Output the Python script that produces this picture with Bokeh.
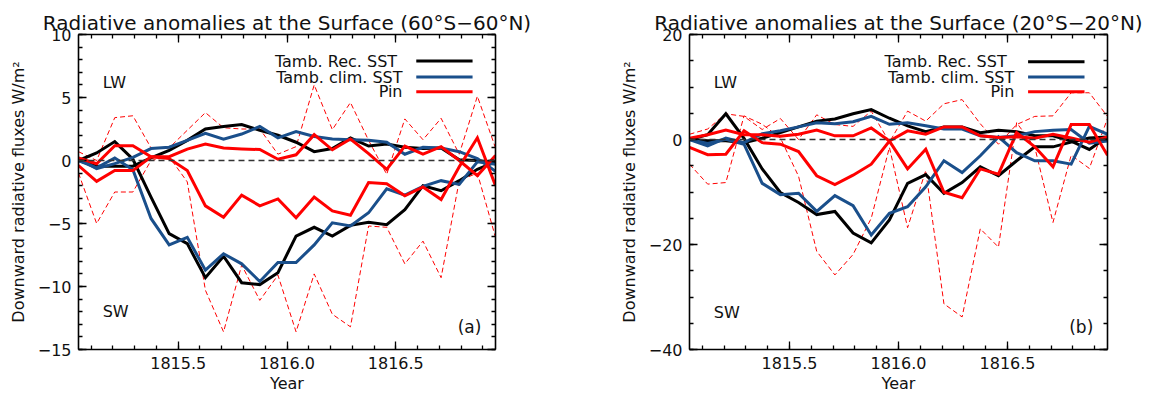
from bokeh.plotting import figure
from bokeh.layouts import row
from bokeh.models import (Range1d, LinearAxis, SingleIntervalTicker, Span, Label,
                          CustomJSTickFormatter)
from bokeh.embed import file_html
from bokeh.resources import INLINE

# Monthly time axis (mid-month), Jan 1815 .. Dec 1816
year = [1815 + (m + 0.5) / 12 for m in range(24)]

# ---- 60S-60N surface radiative anomalies (W/m2) ----
rec_lw_a = [0.0, -0.45, -0.45, -0.45, 0.2, 0.8, 1.6, 2.5, 2.7, 2.85, 2.4, 2.0,
            1.45, 0.7, 0.95, 1.8, 1.15, 1.3, 1.05, 0.95, 1.0, 0.05, 0.0, -0.2]
rec_sw_a = [0.0, 0.6, 1.5, 0.1, -2.9, -5.8, -6.6, -9.3, -7.6, -9.7, -9.85, -8.9,
            -6.0, -5.3, -6.0, -5.15, -4.9, -5.1, -3.9, -2.0, -2.4, -1.6, -0.7, -0.1]
clim_lw_a = [0.13, -0.65, -0.25, 0.25, 0.95, 1.05, 1.6, 2.15, 1.7, 2.1, 2.7, 1.8,
             2.3, 1.9, 1.7, 1.65, 1.6, 1.45, 0.5, 1.05, 1.0, 0.7, 0.15, -0.85]
clim_sw_a = [0.0, -0.58, 0.2, -0.74, -4.6, -6.7, -6.1, -8.7, -7.4, -8.2, -9.6, -8.1,
             -8.1, -6.7, -4.95, -5.2, -4.15, -2.25, -2.75, -2.05, -1.6, -1.9, -0.1, -0.3]
pin_lw_a = [0.2, -0.26, 1.18, 1.18, 0.3, 0.3, 0.9, 1.3, 1.0, 0.92, 0.87, 0.1,
            0.45, 2.05, 0.85, 1.7, 0.55, -0.7, 1.15, 0.5, 1.1, 0.0, -1.2, 0.4]
pin_sw_a = [-0.4, -1.65, -0.8, -0.8, 0.3, 0.15, -0.8, -3.6, -4.5, -2.75, -3.6, -3.05,
            -4.55, -2.9, -4.0, -4.35, -1.75, -1.85, -2.8, -2.1, -3.1, -0.5, 1.8, -2.0]
pin_max_a = [0.7, 0.0, 3.4, 3.55, 1.0, 1.0, 2.4, 3.8, 2.6, 2.5, 2.5, 0.5,
             1.1, 6.0, 2.45, 4.6, 1.6, -1.1, 3.3, 1.65, 3.35, 0.5, 5.1, 1.0]
pin_min_a = [-1.0, -5.0, -2.5, -2.5, 0.0, 0.3, -1.7, -10.3, -13.6, -8.3, -11.1, -9.1,
             -13.6, -9.0, -12.2, -13.2, -5.2, -5.3, -8.2, -6.4, -9.3, -1.6, -1.0, -6.1]

# ---- 20S-20N surface radiative anomalies (W/m2) ----
rec_lw_b = [0.0, -0.25, -0.25, -0.6, 0.25, 1.3, 2.4, 3.5, 3.9, 4.9, 5.7, 4.05,
            2.6, 1.5, 2.4, 2.4, 1.3, 1.77, 1.5, 0.7, 0.7, -0.3, -1.9, 0.5]
rec_sw_b = [0.0, 0.9, 4.9, 0.2, -5.6, -10.1, -12.0, -14.3, -13.7, -17.8, -19.7, -15.3,
            -8.35, -6.7, -10.25, -8.2, -5.2, -6.9, -4.05, -1.4, -1.4, -0.5, 0.3, 0.5]
clim_lw_b = [0.0, -1.2, 0.25, -0.6, 1.1, 1.65, 2.4, 3.2, 3.0, 3.4, 4.4, 2.9,
             3.2, 2.6, 2.0, 2.0, 0.7, 0.4, 0.7, 1.5, 1.77, 1.9, -0.7, -0.3]
clim_sw_b = [0.0, -0.75, 0.06, -0.9, -8.35, -10.5, -10.25, -13.7, -10.7, -12.6, -18.2, -14.05,
             -12.8, -9.0, -4.05, -6.3, -3.1, 0.5, -2.5, -4.05, -4.05, -4.7, 2.5, 1.0]
pin_lw_b = [0.25, 0.9, 1.8, 0.9, 0.9, 0.6, 1.0, 1.8, 0.7, 0.7, 2.2, -0.3,
            1.65, 1.0, 2.4, 2.4, 0.7, 0.4, 0.5, 0.25, 1.0, 0.3, -0.5, 0.5]
pin_sw_b = [-1.5, -2.9, -2.8, 1.65, -0.6, -0.9, -2.3, -6.9, -8.6, -6.8, -4.7, -0.3,
            -5.6, -1.85, -10.05, -11.1, -5.6, -6.6, 1.3, -1.4, -5.2, 2.85, 2.85, -3.0]
pin_max_b = [1.0, 2.0, 4.9, 4.4, 1.9, 4.0, 0.0, 4.7, 2.85, 2.5, 5.4, -0.5,
             5.4, 3.5, 6.8, 7.6, 3.0, -0.9, 2.85, 4.4, 4.5, 8.9, 8.9, 4.4]
pin_min_b = [-4.7, -8.5, -8.2, 4.5, 2.9, 0.3, -7.0, -21.3, -25.8, -21.9, -15.0, -1.5,
             -16.8, -5.9, -31.3, -33.8, -17.0, -20.5, 3.2, -1.5, -15.8, -3.0, -5.5, 4.0]

series_names = ["Tamb. Rec. SST", "Tamb. clim. SST", "Pin"]

FONT = "DejaVu Sans"
INK = "#111111"
BLACK, BLUE, RED = "#000000", "#1a4f8b", "#ff0000"
COLORS = [BLACK, BLUE, RED]


def style_axis(ax, ticker, show_labels):
    ax.ticker = ticker
    ax.axis_line_width = 1.6
    ax.axis_line_color = "black"
    ax.major_tick_out = 0
    ax.major_tick_in = 8
    ax.minor_tick_out = 0
    ax.minor_tick_in = 4
    ax.major_tick_line_width = 1.3
    ax.minor_tick_line_width = 1.3
    ax.major_tick_line_color = "black"
    ax.minor_tick_line_color = "black"
    ax.major_label_text_font = FONT
    ax.major_label_text_color = INK
    ax.major_label_text_font_size = "16px"
    if show_labels:
        ax.major_label_standoff = 7
    else:
        # tick marks only on the opposite frame edges
        ax.formatter = CustomJSTickFormatter(code="return ''")
        ax.major_label_standoff = 0


def panel(title, ylo, yhi, yint, yminor, lines, spread, width, b_left, b_right,
          tag, lw_y, sw_y, tag_y, leg_y, leg_dx):
    p = figure(width=width, height=397,
               x_range=Range1d(year[0], year[-1]), y_range=Range1d(ylo, yhi),
               output_backend="svg", toolbar_location=None,
               min_border_left=b_left, min_border_right=b_right,
               min_border_top=34, min_border_bottom=48)
    p.grid.visible = False
    p.outline_line_color = None
    p.background_fill_color = "white"
    p.border_fill_color = "white"

    p.title.text = title
    p.title.align = "center"
    p.title.text_font = FONT
    p.title.text_font_size = "20px"
    p.title.text_font_style = "normal"
    p.title.text_color = INK
    p.title.standoff = 0

    xt = lambda: SingleIntervalTicker(interval=0.5, num_minor_ticks=5)
    yt = lambda: SingleIntervalTicker(interval=yint, num_minor_ticks=yminor)

    style_axis(p.xaxis[0], xt(), True)
    p.xaxis[0].axis_label = "Year"
    p.xaxis[0].axis_label_text_font = FONT
    p.xaxis[0].axis_label_text_font_size = "16px"
    p.xaxis[0].axis_label_text_font_style = "normal"
    p.xaxis[0].axis_label_text_color = INK
    p.xaxis[0].axis_label_standoff = 2
    p.xaxis[0].major_label_overrides = {1815.5: "1815.5", 1816: "1816.0", 1816.5: "1816.5"}

    style_axis(p.yaxis[0], yt(), True)
    p.yaxis[0].axis_label = "Downward radiative fluxes W/m\u00b2"
    p.yaxis[0].axis_label_text_font = FONT
    p.yaxis[0].axis_label_text_font_size = "16px"
    p.yaxis[0].axis_label_text_font_style = "normal"
    p.yaxis[0].axis_label_text_color = INK
    p.yaxis[0].axis_label_standoff = 7

    top = LinearAxis()
    style_axis(top, xt(), False)
    p.add_layout(top, "above")
    right = LinearAxis()
    style_axis(right, yt(), False)
    p.add_layout(right, "right")

    p.add_layout(Span(location=0, dimension="width", line_color="#333333",
                      line_width=1.4, line_dash="6 4"))

    # ensemble spread of Pin (thin dashed)
    for s in spread:
        p.line(year, s, line_color=RED, line_width=1, line_dash="5 3")

    # LW and SW anomalies for each experiment
    for (lw, sw), c in zip(lines, COLORS):
        p.line(year, lw, line_color=c, line_width=3, line_join="miter")
        p.line(year, sw, line_color=c, line_width=3, line_join="miter")

    x0, x1 = year[0], year[-1]
    span = x1 - x0

    for txt, yv in (("LW", lw_y), ("SW", sw_y)):
        p.add_layout(Label(x=x0 + 0.058 * span, y=yv, text=txt, text_font=FONT,
                           text_font_size="16px", text_baseline="middle",
                           text_align="left", text_color=INK))
    p.add_layout(Label(x=x0 + 0.966 * span, y=tag_y, text=tag, text_font=FONT,
                       text_font_size="17px", text_baseline="middle",
                       text_align="right", text_color=INK))

    # legend: right-aligned names followed by a line sample
    tx = x0 + 0.777 * span
    for k, (name, c, yv) in enumerate(zip(series_names, COLORS, leg_y)):
        p.add_layout(Label(x=tx - (leg_dx if k == 0 else 0.0), y=yv, text=name,
                           text_font=FONT, text_font_size="16px", text_color=INK,
                           text_baseline="middle", text_align="right"))
        p.line([x0 + 0.81 * span, x0 + 0.945 * span], [yv, yv],
               line_color=c, line_width=3)
    return p


p1 = panel("Radiative anomalies at the Surface (60\u00b0S\u221260\u00b0N)", -15, 10, 5, 5,
           [(rec_lw_a, rec_sw_a), (clim_lw_a, clim_sw_a), (pin_lw_a, pin_sw_a)],
           [pin_max_a, pin_min_a], 590, 78, 95, "(a)", 6.2, -12.0, -13.2,
           [7.89, 6.62, 5.46], 0.025)
p2 = panel("Radiative anomalies at the Surface (20\u00b0S\u221220\u00b0N)", -40, 20, 20, 4,
           [(rec_lw_b, rec_sw_b), (clim_lw_b, clim_sw_b), (pin_lw_b, pin_sw_b)],
           [pin_max_b, pin_min_b], 561, 99, 44, "(b)", 10.8, -32.9, -35.7,
           [14.8, 11.9, 9.1], 0.035)

layout = row(p1, p2)
open("out.html", "w").write(file_html(layout, INLINE))
